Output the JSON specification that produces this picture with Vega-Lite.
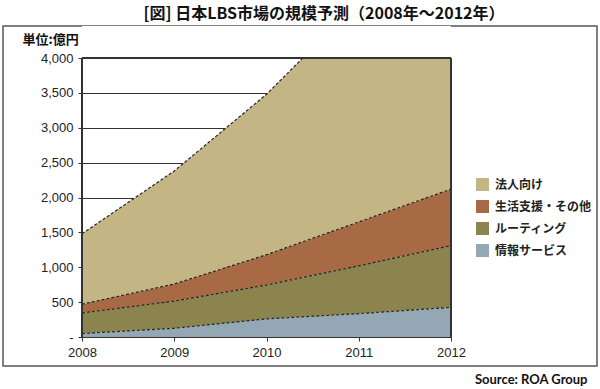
{
  "$schema": "https://vega.github.io/schema/vega-lite/v6.json",
  "width": 594,
  "height": 340,
  "autosize": {"type": "none"},
  "padding": {"left": 3, "top": 26, "right": 3, "bottom": 23},
  "background": "white",
  "title": {
    "text": "[図] 日本LBS市場の規模予測（2008年～2012年）",
    "font": "Noto Sans CJK JP",
    "fontSize": 16,
    "fontWeight": "bold",
    "color": "#111111",
    "frame": "group",
    "anchor": "middle",
    "offset": 4,
    "dx": 24
  },
  "data": {
    "values": [
      {"year": 2008, "series": "情報サービス", "rank": 4, "value": 50},
      {"year": 2009, "series": "情報サービス", "rank": 4, "value": 125},
      {"year": 2010, "series": "情報サービス", "rank": 4, "value": 260},
      {"year": 2011, "series": "情報サービス", "rank": 4, "value": 335},
      {"year": 2012, "series": "情報サービス", "rank": 4, "value": 425},
      {"year": 2008, "series": "ルーティング", "rank": 3, "value": 295},
      {"year": 2009, "series": "ルーティング", "rank": 3, "value": 390},
      {"year": 2010, "series": "ルーティング", "rank": 3, "value": 485},
      {"year": 2011, "series": "ルーティング", "rank": 3, "value": 685},
      {"year": 2012, "series": "ルーティング", "rank": 3, "value": 885},
      {"year": 2008, "series": "生活支援・その他", "rank": 2, "value": 125},
      {"year": 2009, "series": "生活支援・その他", "rank": 2, "value": 245},
      {"year": 2010, "series": "生活支援・その他", "rank": 2, "value": 435},
      {"year": 2011, "series": "生活支援・その他", "rank": 2, "value": 630},
      {"year": 2012, "series": "生活支援・その他", "rank": 2, "value": 810},
      {"year": 2008, "series": "法人向け", "rank": 1, "value": 1010},
      {"year": 2009, "series": "法人向け", "rank": 1, "value": 1620},
      {"year": 2010, "series": "法人向け", "rank": 1, "value": 2300},
      {"year": 2011, "series": "法人向け", "rank": 1, "value": 3150},
      {"year": 2012, "series": "法人向け", "rank": 1, "value": 3680}
    ]
  },
  "layer": [
    {
      "mark": {"type": "area", "clip": true, "opacity": 1},
      "encoding": {
        "x": {
          "field": "year",
          "type": "quantitative",
          "scale": {"domain": [2008, 2012], "range": [79, 448], "nice": false, "zero": false},
          "axis": {
            "orient": "bottom",
            "offset": -29,
            "values": [2008, 2009, 2010, 2011, 2012],
            "format": "d",
            "grid": false,
            "domain": true,
            "domainColor": "#333333",
            "domainWidth": 1,
            "ticks": true,
            "tickSize": 4,
            "tickColor": "#333333",
            "labelFlush": false,
            "labelFont": "Liberation Sans",
            "labelFontSize": 13,
            "labelColor": "#222222",
            "labelPadding": 5,
            "zindex": 1,
            "title": "Source: ROA Group",
            "titleFont": "Lato",
            "titleFontSize": 13,
            "titleFontWeight": "bold",
            "titleColor": "#111111",
            "titleAlign": "right",
            "titleAnchor": null,
            "titleBaseline": "middle",
            "titleX": 584,
            "titleY": 42
          }
        },
        "y": {
          "field": "value",
          "type": "quantitative",
          "stack": "zero",
          "scale": {"domain": [0, 4000], "range": [311, 32], "nice": false, "zero": true},
          "axis": {
            "orient": "left",
            "offset": -79,
            "values": [0, 500, 1000, 1500, 2000, 2500, 3000, 3500, 4000],
            "labelExpr": "datum.value === 0 ? '-' : format(datum.value, ',')",
            "labelFlush": false,
            "grid": true,
            "gridColor": "#333333",
            "gridWidth": 1,
            "gridOpacity": 1,
            "domain": false,
            "ticks": true,
            "tickSize": 4,
            "tickColor": "#333333",
            "labelFont": "Liberation Sans",
            "labelFontSize": 13,
            "labelColor": "#222222",
            "labelPadding": 5,
            "zindex": 0,
            "title": "単位:億円",
            "titleFont": "Noto Sans CJK JP",
            "titleFontSize": 13,
            "titleFontWeight": "bold",
            "titleColor": "#111111",
            "titleAngle": 0,
            "titleAlign": "left",
            "titleAnchor": null,
            "titleBaseline": "middle",
            "titleX": -60,
            "titleY": 13
          }
        },
        "color": {
          "field": "series",
          "type": "nominal",
          "scale": {
            "domain": ["法人向け", "生活支援・その他", "ルーティング", "情報サービス"],
            "range": ["#C4B584", "#A86A45", "#8B844E", "#94A7B5"]
          },
          "legend": {
            "orient": "none",
            "legendX": 473,
            "legendY": 152,
            "title": null,
            "padding": 0,
            "symbolType": "square",
            "symbolSize": 169,
            "symbolStrokeWidth": 0,
            "symbolOpacity": 1,
            "labelFont": "Noto Sans CJK JP",
            "labelFontSize": 12,
            "labelFontWeight": "bold",
            "labelColor": "#222222",
            "labelOffset": 6,
            "rowPadding": 9
          }
        },
        "order": {"field": "rank", "type": "quantitative", "sort": "descending"}
      }
    },
    {
      "mark": {"type": "line", "clip": true, "color": "#262626", "strokeWidth": 1.2, "strokeDash": [3, 2]},
      "encoding": {
        "x": {"field": "year", "type": "quantitative"},
        "y": {"field": "value", "type": "quantitative", "stack": "zero"},
        "detail": {"field": "rank", "type": "nominal"}
      }
    },
    {
      "mark": {"type": "rect", "clip": true, "fill": "white"},
      "encoding": {
        "x": {"datum": 2008, "type": "quantitative"},
        "x2": {"datum": 2012},
        "y": {"datum": 4000, "type": "quantitative"},
        "y2": {"datum": 4600}
      }
    },
    {
      "mark": {"type": "rule", "color": "#333333", "strokeWidth": 1},
      "encoding": {
        "x": {"datum": 2008, "type": "quantitative"},
        "x2": {"datum": 2012},
        "y": {"datum": 4000, "type": "quantitative"}
      }
    },
    {
      "mark": {"type": "rule", "color": "#333333", "strokeWidth": 1},
      "encoding": {
        "x": {"datum": 2012, "type": "quantitative"},
        "y": {"datum": 0, "type": "quantitative"},
        "y2": {"datum": 4000}
      }
    },
    {
      "mark": {"type": "rule", "color": "#333333", "strokeWidth": 1},
      "encoding": {
        "x": {"datum": 2008, "type": "quantitative"},
        "y": {"datum": 0, "type": "quantitative"},
        "y2": {"datum": 4000}
      }
    }
  ],
  "config": {
    "view": {"stroke": "#555555", "strokeWidth": 1.5},
    "legend": {"labelLimit": 200}
  }
}
